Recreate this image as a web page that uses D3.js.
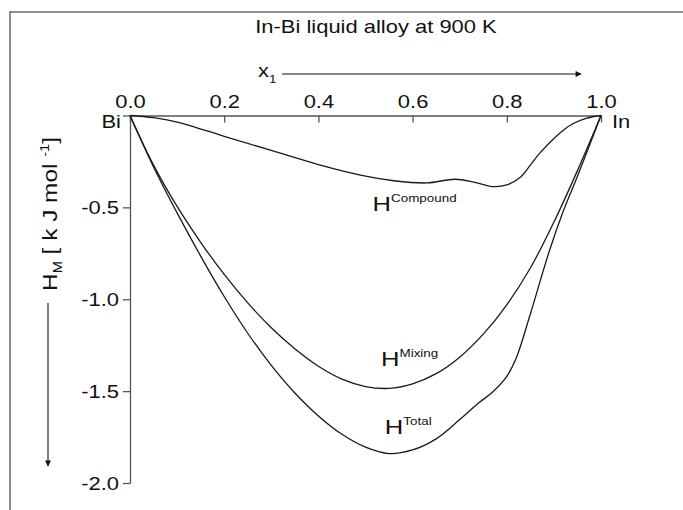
<!DOCTYPE html>
<html>
<head>
<meta charset="utf-8">
<script src="https://cdn.jsdelivr.net/npm/d3@7"></script>
<style>
body { margin: 0; background: #fff; }
text { font-family: "Liberation Sans", Arial, sans-serif; fill: #111; }
</style>
</head>
<body>
<svg width="683" height="510"></svg>
<script>
// composition x1 of In, enthalpies in kJ/mol
var compoundX = [0, 0.05, 0.1, 0.2, 0.3, 0.4, 0.5, 0.56, 0.63, 0.69, 0.73, 0.77, 0.8, 0.83, 0.85, 0.87, 0.9, 0.92, 0.94, 0.97, 1.0];
var compoundH = [0, -0.012, -0.036, -0.113, -0.19, -0.267, -0.33, -0.355, -0.367, -0.347, -0.362, -0.387, -0.378, -0.333, -0.27, -0.205, -0.125, -0.08, -0.045, -0.014, 0];

var mixingX = [0, 0.05, 0.1, 0.15, 0.2, 0.25, 0.3, 0.35, 0.4, 0.45, 0.5, 0.55, 0.6, 0.65, 0.7, 0.75, 0.8, 0.85, 0.9, 0.95, 1.0];
var mixingH = [0, -0.27, -0.495, -0.69, -0.865, -1.02, -1.155, -1.27, -1.365, -1.435, -1.475, -1.485, -1.46, -1.405, -1.315, -1.19, -1.03, -0.83, -0.58, -0.30, 0];

var totalX = [0, 0.05, 0.1, 0.15, 0.2, 0.25, 0.3, 0.35, 0.4, 0.45, 0.5, 0.55, 0.6, 0.65, 0.7, 0.74, 0.77, 0.8, 0.82, 0.85, 0.89, 0.92, 0.95, 1.0];
var totalH = [0, -0.28, -0.53, -0.765, -0.985, -1.185, -1.36, -1.51, -1.635, -1.735, -1.805, -1.84, -1.82, -1.76, -1.655, -1.565, -1.505, -1.42, -1.32, -1.08, -0.74, -0.52, -0.33, 0];

var xMajor = [0, 0.2, 0.4, 0.6, 0.8, 1.0];
var yMajor = [0, -0.5, -1.0, -1.5, -2.0];
var yLabels = ["", "-0.5", "-1.0", "-1.5", "-2.0"];

var SX = 1.22; // text in the picture is drawn a bit wide

var svg = d3.select("svg");
var x = d3.scaleLinear().domain([0, 1]).range([130, 601]);
var y = d3.scaleLinear().domain([0, -2]).range([115.5, 483]);

// outer frame
svg.append("rect")
	.attr("x", 10).attr("y", 12)
	.attr("width", 700).attr("height", 520)
	.attr("fill", "none").attr("stroke", "#444").attr("stroke-width", 1.2);

function stext(px, py, size, anchor) {
	return svg.append("text")
		.attr("transform", "translate(" + px + "," + py + ") scale(" + SX + ",1)")
		.attr("font-size", size)
		.attr("text-anchor", anchor || "start");
}

// title
stext(376, 33, 18, "middle").text("In-Bi liquid alloy at 900 K");

// x axis (top)
var gx = svg.append("g").attr("transform", "translate(0," + y(0) + ")");
gx.call(d3.axisTop(x).tickValues(d3.range(0, 1.01, 0.1)).tickSize(-4).tickSizeOuter(0).tickFormat(""));
gx.call(d3.axisTop(x).tickValues(xMajor).tickSize(-7).tickSizeOuter(0).tickFormat(d3.format(".1f")));
gx.selectAll("path, line").attr("stroke", "#555").attr("stroke-width", 1.3);
gx.selectAll("text")
	.attr("font-size", 18).attr("fill", "#111")
	.attr("y", -8).attr("dy", 0)
	.attr("transform", "scale(" + SX + ",1)")
	.style("font-family", "'Liberation Sans', Arial, sans-serif");

// y axis
var gy = svg.append("g").attr("transform", "translate(" + x(0) + ",0)");
gy.call(d3.axisLeft(y).tickValues(d3.range(0, -2.01, -0.25)).tickSize(4).tickSizeOuter(0).tickFormat(""));
gy.call(d3.axisLeft(y).tickValues(yMajor).tickSize(7).tickSizeOuter(0)
	.tickFormat(function(d, i) { return yLabels[i]; }));
gy.selectAll("path, line").attr("stroke", "#555").attr("stroke-width", 1.3);
gy.selectAll("text")
	.attr("font-size", 18).attr("fill", "#111")
	.attr("x", -11 / SX).attr("dy", "0.36em")
	.attr("transform", "scale(" + SX + ",1)")
	.style("font-family", "'Liberation Sans', Arial, sans-serif");

// end labels
stext(x(0) - 9, y(0) + 12, 18, "end").text("Bi");
stext(x(1) + 11, y(0) + 12, 18, "start").text("In");

// x1 label with arrow
var xl = stext(258, 77, 18, "start");
xl.append("tspan").text("x");
xl.append("tspan").attr("font-size", 11).attr("dy", 6).text("1");

svg.append("defs").append("marker")
	.attr("id", "ah").attr("viewBox", "0 0 10 10")
	.attr("refX", 9).attr("refY", 5)
	.attr("markerWidth", 7).attr("markerHeight", 6)
	.attr("markerUnits", "userSpaceOnUse")
	.attr("orient", "auto")
	.append("path").attr("d", "M0,0L10,5L0,10z").attr("fill", "#111");

svg.append("line")
	.attr("x1", 282).attr("y1", 74).attr("x2", 581).attr("y2", 74)
	.attr("stroke", "#111").attr("stroke-width", 1.1)
	.attr("marker-end", "url(#ah)");

// y label with arrow
var yl = svg.append("text")
	.attr("transform", "translate(57,214) rotate(-90) scale(" + SX + ",1)")
	.attr("font-size", 20).attr("text-anchor", "middle");
yl.append("tspan").text("H");
yl.append("tspan").attr("font-size", 12).attr("dy", 5).text("M");
yl.append("tspan").attr("dy", -5).text(" [ k J mol ");
yl.append("tspan").attr("font-size", 12).attr("dy", -8).text("-1");
yl.append("tspan").attr("dy", 8).text("]");

svg.append("line")
	.attr("x1", 48).attr("y1", 303).attr("x2", 48).attr("y2", 466)
	.attr("stroke", "#111").attr("stroke-width", 1.1)
	.attr("marker-end", "url(#ah)");

// curves
var line = d3.line()
	.x(function(d) { return x(d[0]); })
	.y(function(d) { return y(d[1]); })
	.curve(d3.curveCatmullRom.alpha(0.5));

function series(xs, hs) { return xs.map(function(v, i) { return [v, hs[i]]; }); }

[series(compoundX, compoundH), series(mixingX, mixingH), series(totalX, totalH)].forEach(function(s) {
	svg.append("path")
		.datum(s)
		.attr("d", line)
		.attr("fill", "none")
		.attr("stroke", "#1a1a1a")
		.attr("stroke-width", 1.3);
});

// curve labels
function hlabel(px, hv, sup) {
	var t = stext(x(px), y(hv), 21, "start");
	t.append("tspan").text("H");
	t.append("tspan").attr("font-size", 11).attr("dy", -9).text(sup);
}
hlabel(0.515, -0.52, "Compound");
hlabel(0.533, -1.362, "Mixing");
hlabel(0.541, -1.736, "Total");
</script>
</body>
</html>
